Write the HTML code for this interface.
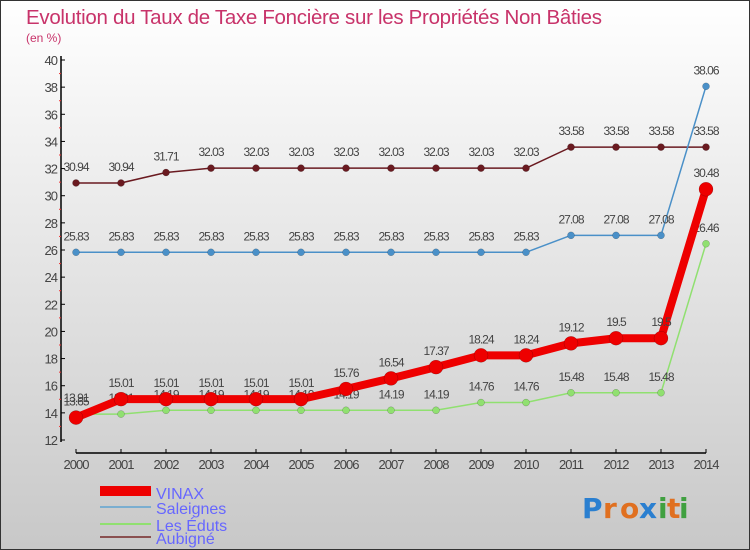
<!DOCTYPE html>
<html><head><meta charset="utf-8"><style>
body{margin:0;width:750px;height:550px;overflow:hidden;font-family:"Liberation Sans",sans-serif}
svg{display:block}
</style></head><body>
<svg id="chart" width="750" height="550" viewBox="0 0 750 550" xmlns="http://www.w3.org/2000/svg">
<defs><linearGradient id="bg" x1="0" y1="0" x2="0" y2="1"><stop offset="0" stop-color="#ffffff"/><stop offset="1" stop-color="#c8c8c8"/></linearGradient></defs>
<rect x="0.5" y="0.5" width="749" height="549" fill="url(#bg)" stroke="#333"/>
<text x="26" y="24" font-size="20.5" fill="#c8336a" textLength="576" lengthAdjust="spacing">Evolution du Taux de Taxe Foncière sur les Propriétés Non Bâties</text>
<text x="26" y="42" font-size="12" fill="#c8336a">(en %)</text>
<g id="axes"></g>
<g id="series"></g>
<g id="legend">
<rect x="100" y="486" width="51" height="10" fill="#e00"/>
<text x="156" y="499" font-size="16" fill="#6666ff">VINAX</text>
<rect x="100" y="506" width="51" height="2" fill="#7aaed0"/>
<text x="156" y="514" font-size="16" fill="#6666ff">Saleignes</text>
<rect x="100" y="523" width="51" height="2" fill="#90e070"/>
<text x="156" y="531" font-size="16" fill="#6666ff">Les Éduts</text>
<rect x="100" y="536" width="51" height="2" fill="#8a5050"/>
<text x="156" y="544" font-size="16" fill="#6666ff">Aubigné</text>
</g>
<g font-size="28" font-weight="bold" font-family="DejaVu Sans, sans-serif">
<text x="582" y="518" fill="#2a7fd0">P</text><text x="603" y="518" fill="#e07020">r</text><text x="620" y="518" fill="#e07020">o</text><text x="639" y="518" fill="#2a7fd0">x</text><text x="658" y="518" fill="#40a040">i</text><text x="667" y="518" fill="#e07020">t</text><text x="679" y="518" fill="#40a040">i</text>
</g>
</svg>
<script>
const years=["2000","2001","2002","2003","2004","2005","2006","2007","2008","2009","2010","2011","2012","2013","2014"];
const yTicks=[12,14,16,18,20,22,24,26,28,30,32,34,36,38,40];
const vinax=[13.65,15.01,15.01,15.01,15.01,15.01,15.76,16.54,17.37,18.24,18.24,19.12,19.5,19.5,30.48];
const saleignes=[25.83,25.83,25.83,25.83,25.83,25.83,25.83,25.83,25.83,25.83,25.83,27.08,27.08,27.08,38.06];
const eduts=[13.91,13.91,14.19,14.19,14.19,14.19,14.19,14.19,14.19,14.76,14.76,15.48,15.48,15.48,26.46];
const aubigne=[30.94,30.94,31.71,32.03,32.03,32.03,32.03,32.03,32.03,32.03,32.03,33.58,33.58,33.58,33.58];
const NS="http://www.w3.org/2000/svg";
const xS=i=>76+i*45, yS=v=>440-(v-12)*(380/28);
function mk(tag,attrs,parent){const e=document.createElementNS(NS,tag);for(const k in attrs)e.setAttribute(k,attrs[k]);parent.appendChild(e);return e;}
const ax=document.getElementById('axes'), sg=document.getElementById('series');
let l=mk('line',{x1:61,y1:56,x2:61,y2:442,stroke:'#000','stroke-width':1.5},ax);


l=mk('line',{x1:76,y1:453,x2:706,y2:453,stroke:'#000','stroke-width':1.5},ax);


yTicks.forEach(v=>{const y=yS(v);
 mk('line',{x1:61,y1:y,x2:65,y2:y,stroke:'#000'},ax);
 if(v<40) mk('line',{x1:59,y1:yS(v+1),x2:61,y2:yS(v+1),stroke:'#e33'},ax);
 const t=mk('text',{x:57,y:y+5,'font-size':13,'text-anchor':'end',fill:'#444','letter-spacing':'-1'},ax);t.textContent=v;
 
 });
years.forEach((yr,i)=>{const x=xS(i);
 mk('line',{x1:x,y1:449,x2:x,y2:453,stroke:'#000'},ax);
 const t=mk('text',{x:x,y:469,'font-size':13,'text-anchor':'middle',fill:'#444','letter-spacing':'-1'},ax);t.textContent=yr;
 
 });
function fmt(v){return String(v);}
function series(data,name,color,w,r){
 const g=mk('g',{},sg);
 
 
 const p=mk('polyline',{points:data.map((v,i)=>xS(i)+','+yS(v)).join(' '),fill:'none',stroke:color,'stroke-width':w,'stroke-linejoin':'round'},g);
 
 
 data.forEach((v,i)=>{const c=mk('circle',{cx:xS(i),cy:yS(v),r:r,fill:color,stroke:'rgba(0,0,0,0.3)','stroke-width':0.5},g);
  
  
  const t=mk('text',{x:xS(i),y:yS(v)-12,'font-size':12,'text-anchor':'middle',fill:'#444','letter-spacing':'-1'},g);t.textContent=fmt(v);
  
  });
}
series(aubigne,'aubigne','#6a1a20',1.5,3.5);
series(saleignes,'saleignes','#4a90c8',1.5,3.5);
series(eduts,'les-eduts','#90e070',1.5,3.5);
series(vinax,'vinax','#ee0000',8,7);
</script>
</body></html>
